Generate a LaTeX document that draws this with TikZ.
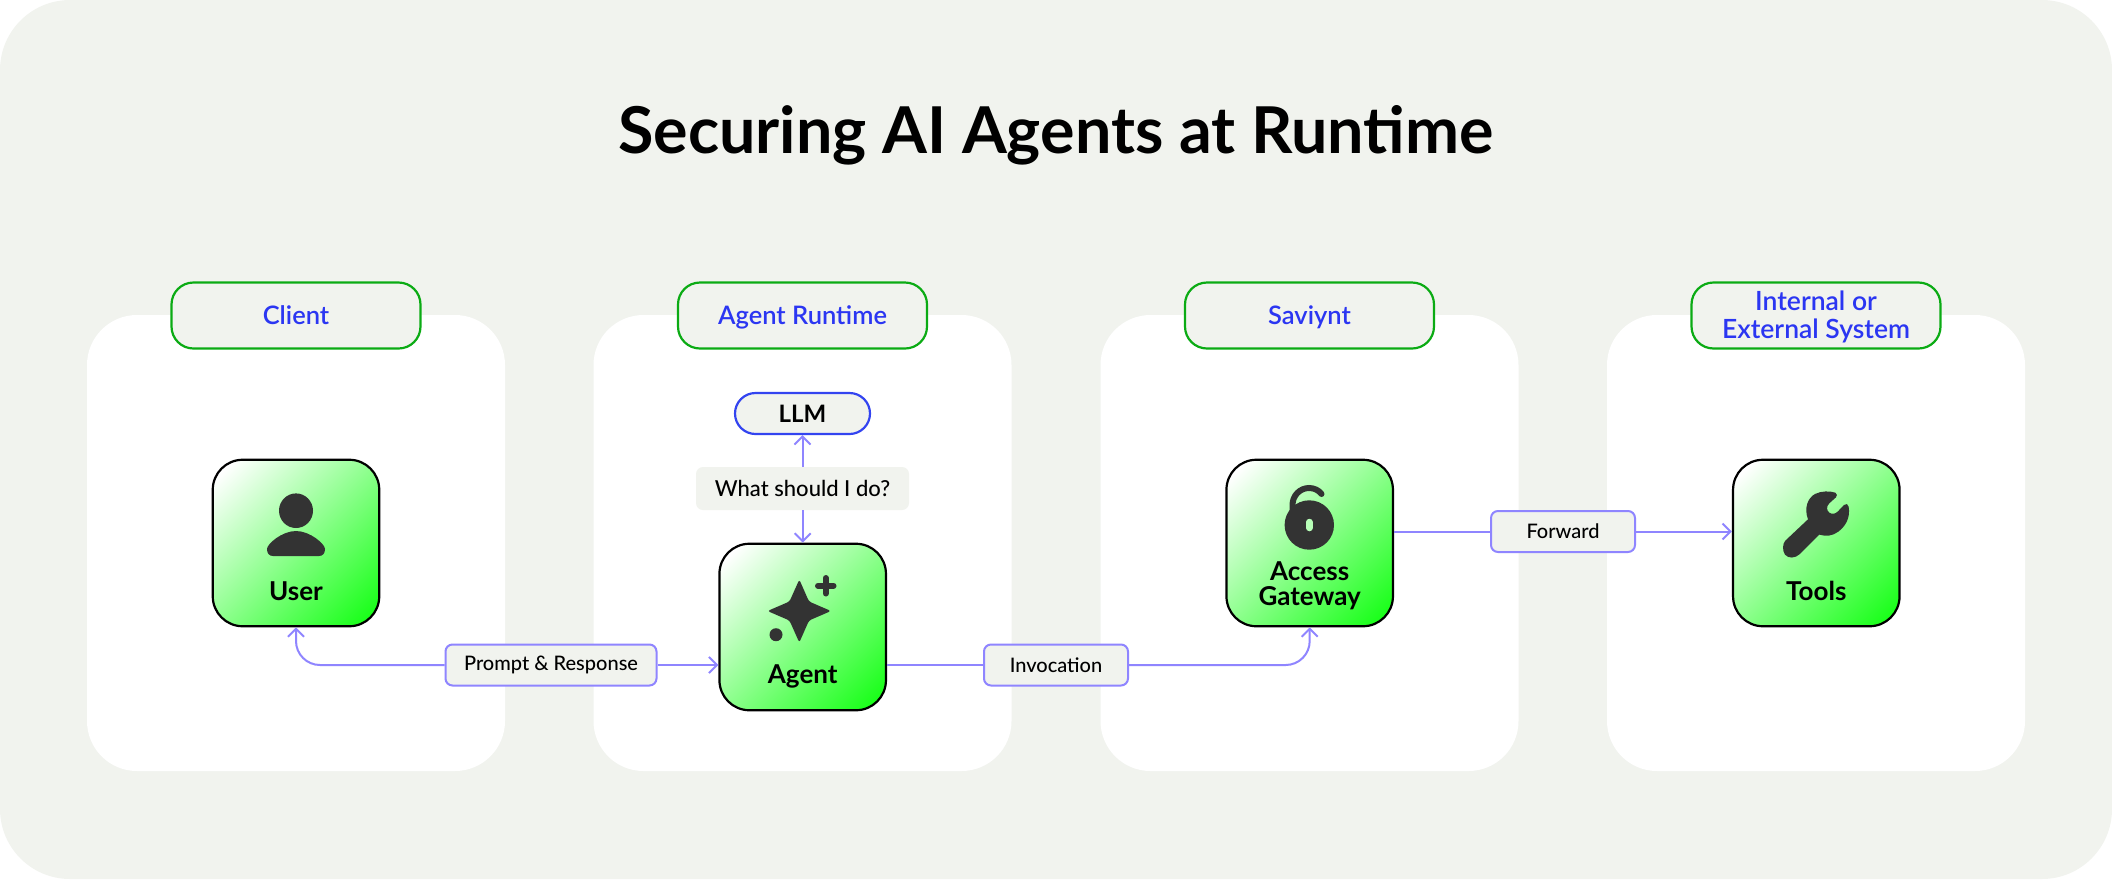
\documentclass[tikz,border=0pt]{standalone}
\usepackage{fontspec}
\setmainfont{Lato}
\newfontfamily\medfont{Lato Medium}
\newfontfamily\semifont{Lato Semibold}
\usetikzlibrary{arrows.meta}
\definecolor{bgc}{HTML}{F1F3EE}
\definecolor{grn}{HTML}{0BAB14}
\definecolor{blu}{HTML}{2B36F2}
\definecolor{llmb}{HTML}{3344F0}
\definecolor{arr}{HTML}{8F85FF}
\definecolor{ico}{HTML}{333333}
\definecolor{keyh}{HTML}{B8FFB8}
\definecolor{lime}{HTML}{14FF14}
\pgfdeclareverticalshading{boxgrad}{100bp}{color(0bp)=(lime);color(17bp)=(lime);color(81bp)=(white);color(100bp)=(white)}
\tikzset{
  panel/.style={fill=white,draw=none,rounded corners=50pt,minimum width=418pt,minimum height=456pt,inner sep=0pt,outer sep=0pt},
  grouplabel/.style={fill=bgc,draw=grn,line width=2.2pt,rounded corners=22pt,minimum width=249pt,minimum height=66pt,inner sep=0pt,outer sep=0pt,text=blu,align=center,font=\fontsize{25.5}{28}\semifont,text height=21pt,text depth=4pt},
  iconbox/.style={draw=black,line width=2.2pt,rounded corners=30pt,minimum width=166.5pt,minimum height=166.5pt,inner sep=0pt,outer sep=1.1pt,shade,shading=boxgrad,shading angle=45},
  boxtext/.style={font=\fontsize{26}{26}\selectfont\bfseries,text=black,align=center,inner sep=0pt},
  flowlabel/.style={fill=bgc,draw=arr,line width=2pt,rounded corners=7pt,minimum height=41pt,inner sep=0pt,outer sep=1pt,font=\fontsize{20}{24}\medfont,text=black},
  flow/.style={draw=arr,line width=2pt,-{Straight Barb[length=8pt,width=16pt,line width=2pt]}},
  flowplain/.style={draw=arr,line width=2pt},
}
\begin{document}
\begin{tikzpicture}[x=1pt,y=-1pt]
\useasboundingbox (0,0) rectangle (2112,879);
\fill[bgc,rounded corners=70pt] (0,0) rectangle (2112,879);
\node[font=\fontsize{64.6}{64}\selectfont\bfseries,text=black,inner sep=0pt] (title) at (1056,135) {Securing AI Agents at Runtime};
\node[panel] (p1) at (296,543) {};
\node[panel] (p2) at (802.5,543) {};
\node[panel] (p3) at (1309.5,543) {};
\node[panel] (p4) at (1816,543) {};
\node[grouplabel] (l1) at (296,315.5) {Client};
\node[grouplabel] (l2) at (802.5,315.5) {Agent Runtime};
\node[grouplabel] (l3) at (1309.5,315.5) {Saviynt};
\node[grouplabel,text height=,text depth=] (l4) at (1816,315.5) {\phantom{I}};
\node[text=blu,align=center,font=\fontsize{26.5}{27.5}\semifont,inner sep=0pt] (l4t) at (1816,317) {Internal or\\External System};
% icon boxes
\node[iconbox] (user) at (296,543) {};
\node[iconbox] (agent) at (802.7,627) {};
\node[iconbox] (gate) at (1309.7,543) {};
\node[iconbox] (tools) at (1816.3,543) {};
\node[boxtext] (tuser) at (296,591) {User};
\node[boxtext] (tagent) at (802.7,676) {Agent};
\node[boxtext] (tgate) at (1309.7,585.5) {Access\\[-1pt]Gateway};
\node[boxtext] (ttools) at (1816.3,591) {Tools};
% LLM
\node[fill=bgc,draw=llmb,line width=2.2pt,rounded corners=20.5pt,minimum width=135pt,minimum height=41pt,inner sep=0pt,outer sep=1.1pt,font=\fontsize{24}{24}\selectfont\bfseries] (llm) at (802.5,413.5) {LLM};
\node[fill=bgc,draw=none,rounded corners=7pt,minimum width=213pt,minimum height=43pt,inner sep=0pt,outer sep=0pt,font=\fontsize{22}{24}\medfont] (what) at (802.5,488.5) {What should I do?};
% flow labels
\node[flowlabel,minimum width=211pt] (prompt) at (551,665) {Prompt \& Response};
\node[flowlabel,minimum width=144pt] (invoc) at (1056,665) {Invocation};
\node[flowlabel,minimum width=144pt] (forw) at (1563,531.5) {Forward};
% connectors
\draw[flow] (what.north -| llm.south) -- (llm.south);
\draw[flow] (what.south -| agent.north) -- (agent.north);
\draw[flow,rounded corners=24pt] (prompt.west) -| (user.south);
\draw[flow] (prompt.east) -- (prompt.east -| agent.west);
\draw[flowplain] (agent.east |- invoc.west) -- (invoc.west);
\draw[flow,rounded corners=24pt] (invoc.east) -| (gate.south);
\draw[flowplain] (gate.east |- forw.west) -- (forw.west);
\draw[flow] (forw.east) -- (forw.east -| tools.west);
% user icon
\fill[ico] (296,510.7) ellipse [x radius=17pt,y radius=17.3pt];
\fill[ico] (267,549) .. controls (267,544) and (282,531) .. (296,531) .. controls (310,531) and (325,544) .. (325,549) .. controls (325,553) and (323,556) .. (319,556) -- (273,556) .. controls (269,556) and (267,553) .. (267,549) -- cycle;
% agent icon
\fill[ico,rounded corners=2.5pt] (799.3,579.5) -- (809,601.5) -- (831,611) -- (809,620.5) -- (799.3,642.5) -- (789.5,620.5) -- (767.5,611) -- (789.5,601.5) -- cycle;
\draw[ico,line width=6pt,line cap=round] (825.7,578) -- (825.7,593.5) (818,585.7) -- (833.5,585.7);
\fill[ico] (776,634.7) circle [radius=6.5pt];
% lock icon
\draw[ico,line width=6pt,line cap=round] (1292.5,514) -- (1292.5,505) .. controls (1292.5,495.5) and (1300,488) .. (1309,488) .. controls (1314,488) and (1318.5,490) .. (1321.5,494);
\fill[ico] (1309.3,525) circle [radius=24.7pt];
\draw[keyh,line width=6.5pt,line cap=round] (1309.3,522) -- (1309.3,528);
% wrench icon
\begin{scope}[shift={(1600,260)},x=0.3333pt,y=-0.3333pt]
\fill[ico] (556,842) -- (624,778) .. controls (612,745) and (622,715) .. (645,702) .. controls (665,692) and (690,693) .. (706,698) .. controls (712,701) and (712,708) .. (708,712) -- (688,730) .. controls (678,740) and (680,752) .. (688,758) .. controls (696,764) and (706,762) .. (714,754) -- (732,735) .. controls (738,729) and (745,732) .. (746,740) .. controls (752,775) and (735,800) .. (715,815) .. controls (698,828) and (678,830) .. (658,824) -- (600,882) .. controls (585,896) and (565,896) .. (555,884) .. controls (547,872) and (547,852) .. (556,842) -- cycle;
\end{scope}
\end{tikzpicture}
\end{document}
